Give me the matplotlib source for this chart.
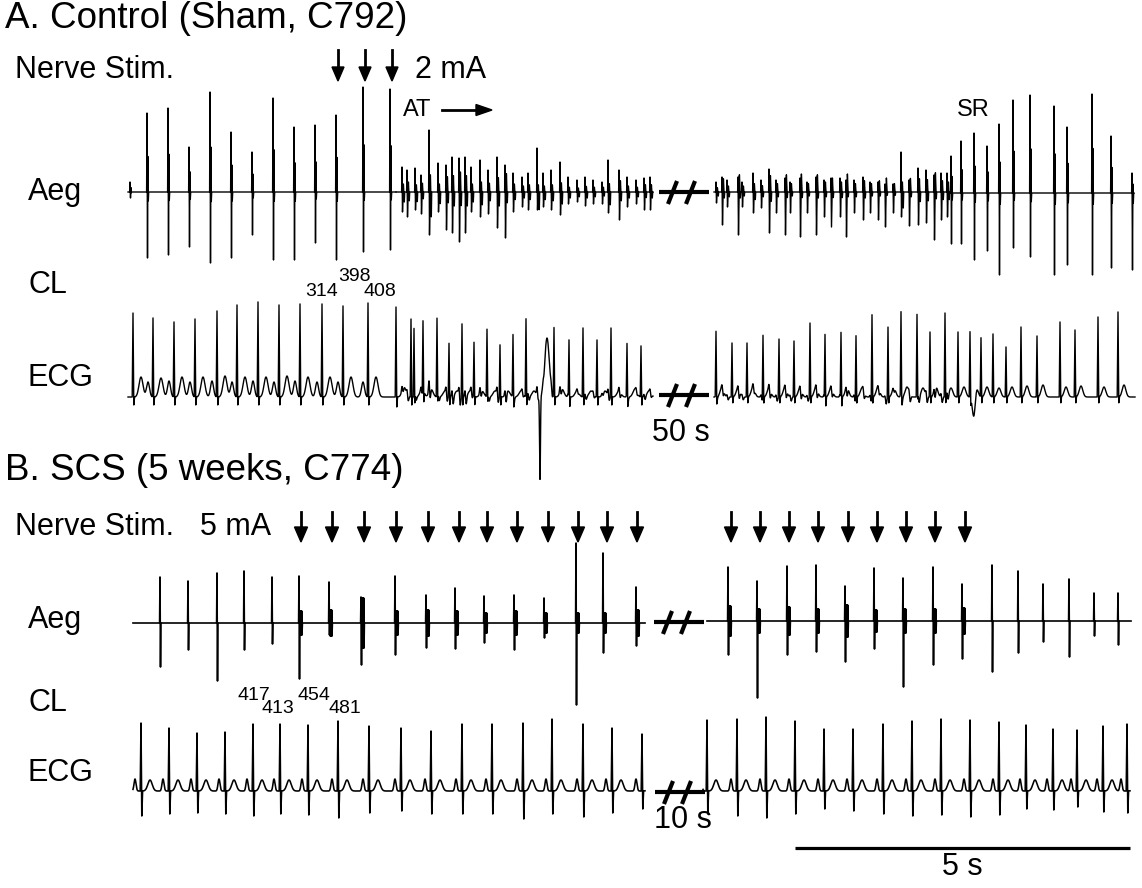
import numpy as np
import matplotlib
matplotlib.use("Agg")
import matplotlib.pyplot as plt
from matplotlib.patches import Polygon

plt.rcParams['font.family'] = ['Liberation Sans', 'DejaVu Sans']

# time runs along x at 67 units per second (the 5 s bar), amplitudes in trace units
UNITS_PER_S = 67

# ---------------- A. Control ----------------
# Aeg, sinus beats before the AT
a_aeg_sinus_x = [130, 147, 168, 189, 210, 231, 252, 273, 294, 315, 336, 363, 390]
a_aeg_sinus_up = [10, 79, 84, 45, 100, 60, 40, 94, 65, 67, 77, 105, 103]
a_aeg_sinus_down = [6, 66, 63, 55, 71, 66, 43, 68, 68, 51, 68, 60, 58]

# Aeg, atrial tachycardia before the gap
a_aeg_at1_x = [402, 407, 415, 421, 429, 438, 446, 452, 459, 465, 471, 480, 488, 497, 505, 513,
               522, 528, 537, 543, 551, 560, 568, 577, 585, 593, 602, 608, 619, 627, 636, 644, 650]
a_aeg_at1_up = [25, 22, 24, 17, 62, 29, 27, 35, 34, 35, 25, 32, 22, 35, 27, 19,
                15, 19, 44, 19, 22, 30, 15, 12, 15, 12, 10, 32, 22, 15, 12, 14, 15]
a_aeg_at1_down = [20, 25, 18, 22, 43, 20, 38, 41, 50, 41, 20, 25, 22, 36, 46, 20,
                  15, 18, 18, 15, 18, 23, 12, 10, 14, 12, 12, 21, 28, 15, 12, 18, 18]

# Aeg, atrial tachycardia after the gap
a_aeg_at2_x = [716, 722, 727, 738, 742, 753, 761, 769, 776, 785, 790, 800, 807, 816, 824, 831,
               840, 846, 854, 863, 870, 878, 885, 893, 901, 909, 918, 926, 934, 941, 947]
a_aeg_at2_up = [10, 15, 12, 15, 10, 19, 12, 23, 12, 14, 10, 14, 10, 15, 12, 14,
                14, 12, 12, 15, 10, 10, 8, 8, 40, 12, 24, 22, 17, 19, 19]
a_aeg_at2_down = [11, 33, 15, 43, 15, 21, 16, 41, 21, 43, 21, 45, 21, 43, 25, 35,
                  25, 45, 21, 28, 21, 28, 35, 21, 25, 34, 33, 31, 48, 28, 25]

# Aeg, return to sinus rhythm
a_aeg_sr_x = [951, 961, 974, 987, 999, 1013, 1030, 1054, 1067, 1092, 1111, 1132]
a_aeg_sr_up = [37, 52, 60, 47, 69, 93, 98, 87, 66, 99, 57, 20]
a_aeg_sr_down = [51, 51, 67, 58, 82, 55, 64, 82, 72, 82, 75, 77]

# ECG before the gap
a_ecg_l_x = [133, 153, 174, 195, 217, 237, 258, 279, 300, 322, 343, 368,
             396, 411, 414, 423, 437, 449, 462, 474, 487, 500, 513, 526,
             554, 569, 583, 597, 611, 627, 641]
a_ecg_l_r = [84, 79, 75, 78, 86, 92, 95, 92, 93, 93, 91, 94,
             90, 78, 68, 71, 78, 53, 73, 54, 67, 52, 59, 78,
             69, 59, 69, 57, 69, 51, 51]
a_ecg_l_s = [8, 8, 8, 8, 8, 8, 8, 8, 8, 8, 8, 8,
             10, 8, 10, 10, 9, 8, 8, 8, 8, 8, 8, 8,
             8, 8, 8, 8, 8, 8, 8]
a_ecg_l_t = [20, 19, 20, 20, 21, 20, 20, 21, 20, 20, 20, 20,
             10, 0, 8, 8, 6, 6, 6, 6, 6, 6, 6, 6,
             8, 6, 6, 6, 6, 8, 6]
a_ecg_l_p = [0, 15, 16, 15, 16, 15, 16, 15, 16, 15, 15, 15,
             0, 0, 0, 0, 0, 0, 0, 0, 0, 0, 0, 0,
             0, 0, 0, 0, 0, 0, 0]
# ectopic artefact: position, downward spike, broad upward hump
a_ecg_art_x, a_ecg_art_down, a_ecg_art_hump = 540, 83, 59

# ECG after the gap
a_ecg_r_x = [716, 732, 747, 763, 779, 794, 810, 825, 841, 856, 872, 888, 901, 917,
             930, 945, 958, 970, 981, 993, 1006, 1021, 1037, 1060, 1075, 1098, 1118]
a_ecg_r_r = [64, 54, 54, 63, 58, 56, 74, 67, 69, 63, 84, 70, 78, 82,
             65, 84, 65, 66, 59, 63, 50, 70, 61, 75, 67, 80, 85]
a_ecg_r_t = [10, 9, 10, 9, 10, 9, 10, 9, 10, 9, 10, 9, 10, 9,
             10, 9, 10, 12, 10, 9, 10, 11, 12, 10, 11, 10, 12]
a_ecg_dip_x, a_ecg_dip = 974, 25

a_cl_labels = ['314', '398', '408']

# ---------------- B. SCS ----------------
b_aeg_l_x = [160, 188, 217, 244, 272, 299, 329, 361, 395, 426, 455, 484, 514, 544, 576, 603, 636]
b_aeg_l_up = [46, 42, 50, 52, 46, 47, 41, 26, 47, 28, 35, 27, 28, 25, 80, 70, 36]
b_aeg_l_down = [44, 27, 58, 27, 21, 56, 12, 42, 32, 25, 26, 20, 27, 15, 82, 30, 23]
b_aeg_l_burst = [0, 0, 0, 0, 0, 12, 13, 25, 12, 13, 12, 10, 12, 10, 10, 10, 13]

b_aeg_r_x = [728, 757, 787, 816, 845, 874, 903, 933, 962, 992, 1018, 1043, 1069, 1094, 1118]
b_aeg_r_up = [54, 40, 55, 56, 35, 53, 43, 54, 37, 56, 50, 37, 42, 28, 28]
b_aeg_r_down = [34, 77, 34, 31, 41, 28, 66, 44, 38, 51, 32, 21, 36, 15, 24]
b_aeg_r_burst = [15, 12, 14, 12, 16, 11, 12, 12, 13, 0, 0, 0, 0, 0, 0]

b_ecg_l_x = [141, 169, 197, 225, 253, 280, 308, 338, 369, 401, 431, 462, 492, 523, 552, 583, 612, 642]
b_ecg_l_r = [68, 63, 58, 59, 67, 67, 66, 70, 65, 63, 60, 67, 67, 68, 72, 67, 63, 57]
b_ecg_l_s = [25, 23, 22, 23, 25, 23, 24, 27, 22, 20, 23, 23, 23, 28, 23, 26, 22, 18]

b_ecg_r_x = [707, 737, 766, 795, 824, 853, 883, 912, 941, 970, 999, 1026, 1053, 1077, 1103, 1127]
b_ecg_r_r = [71, 72, 74, 70, 62, 62, 67, 70, 72, 71, 69, 66, 62, 61, 65, 67]
b_ecg_r_s = [23, 25, 27, 23, 18, 20, 23, 25, 24, 26, 24, 18, 19, 16, 21, 22]

b_stim_x = [301, 332, 364, 396, 428, 459, 487, 517, 548, 578, 607, 637,
            731, 760, 789, 818, 848, 877, 906, 935, 965]
a_stim_x = [338, 365, 392]
b_cl_labels = ['417', '413', '454', '481']


def spike_trace(x0, x1, base, xs, ups, downs, bursts=None, rebound=0.0, echo=0.0):
    """Piecewise electrogram: sharp biphasic deflections on a flat baseline."""
    vx, vy = [x0], [base]
    for i, x in enumerate(xs):
        vx += [x - 0.4, x, x + 0.5]
        vy += [base, base - ups[i], base + downs[i]]
        if echo:
            vx += [x + 0.9, x + 1.3]
            vy += [base - echo * ups[i], base + 0.3 * echo * downs[i]]
        if bursts is not None and bursts[i] > 0:
            for k, dx in enumerate(np.arange(0.9, 3.3, 0.3)):
                sign = -1 if k % 2 == 0 else 1
                vx.append(x + dx)
                vy.append(base + sign * bursts[i])
        if rebound:
            vx += [x + 1.4, x + 2.3]
            vy += [base - rebound * downs[i], base + rebound * ups[i]]
        vx.append(vx[-1] + 0.4)
        vy.append(base)
    vx.append(x1)
    vy.append(base)
    return np.array(vx), np.array(vy)


def ecg_trace(x0, x1, base, rx, rh, sd, th, ph, t_off, t_w, p_off, p_w, extra=None):
    grid = np.arange(x0, x1, 0.25)
    smooth = np.zeros_like(grid)
    for i, x in enumerate(rx):
        smooth += th[i] * np.exp(-0.5 * ((grid - x - t_off) / t_w) ** 2)
        smooth += ph[i] * np.exp(-0.5 * ((grid - x + p_off) / p_w) ** 2)
    if extra is not None:
        smooth += extra(grid)
    qx, qy = [x0], [0.0]
    for i, x in enumerate(rx):
        qx += [x - 0.8, x, x + 0.8, x + 1.6]
        qy += [0, rh[i], -sd[i], 0]
    qx.append(x1)
    qy.append(0.0)
    xs = np.union1d(grid, qx)
    ys = base - (np.interp(xs, grid, smooth) + np.interp(xs, qx, qy))
    return xs, ys


def fwaves(xs, ups, downs, scale):
    def f(g):
        out = np.zeros_like(g)
        for x, u, d in zip(xs, ups, downs):
            out += scale * u * np.exp(-0.5 * ((g - x) / 0.5) ** 2)
            out -= scale * d * np.exp(-0.5 * ((g - x - 1.2) / 0.6) ** 2)
        return out
    return f


fig = plt.figure(figsize=(11.42, 8.88), dpi=100)
ax = fig.add_axes([0, 0, 1, 1])
ax.set_xlim(0, 1142)
ax.set_ylim(888, 0)
ax.axis('off')

LW = 1.0

# ---- A: Aeg ----
xs, ys = spike_trace(128, 396, 192, a_aeg_sinus_x, a_aeg_sinus_up, a_aeg_sinus_down, echo=0.45)
ax.plot(xs, ys, color='k', lw=LW)
xs, ys = spike_trace(396, 653, 192, a_aeg_at1_x, a_aeg_at1_up, a_aeg_at1_down, rebound=0.4)
ax.plot(xs, ys, color='k', lw=LW)
xs, ys = spike_trace(714, 949, 192, a_aeg_at2_x, a_aeg_at2_up, a_aeg_at2_down, rebound=0.4)
ax.plot(xs, ys, color='k', lw=LW)
xs, ys = spike_trace(949, 1134, 193, a_aeg_sr_x, a_aeg_sr_up, a_aeg_sr_down, echo=0.45)
ax.plot(xs, ys, color='k', lw=LW)

# ---- A: ECG ----
def a_left_extra(g):
    out = fwaves(a_aeg_at1_x, a_aeg_at1_up, a_aeg_at1_down, 0.2)(g)
    out += a_ecg_art_hump * np.exp(-0.5 * ((g - a_ecg_art_x - 7) / 2.3) ** 2)
    out -= a_ecg_art_down * np.exp(-0.5 * ((g - a_ecg_art_x) / 0.45) ** 2)
    return out


xs, ys = ecg_trace(128, 653, 397, a_ecg_l_x, a_ecg_l_r, a_ecg_l_s, a_ecg_l_t, a_ecg_l_p,
                   t_off=8, t_w=2.0, p_off=5, p_w=1.5, extra=a_left_extra)
ax.plot(xs, ys, color='k', lw=LW)


def a_right_extra(g):
    out = fwaves(a_aeg_at2_x, a_aeg_at2_up, a_aeg_at2_down, 0.2)(g)
    out -= a_ecg_dip * np.exp(-0.5 * ((g - a_ecg_dip_x) / 1.5) ** 2)
    return out


xs, ys = ecg_trace(714, 1135, 397, a_ecg_r_x, a_ecg_r_r, [6] * len(a_ecg_r_x), a_ecg_r_t,
                   [0] * len(a_ecg_r_x), t_off=6, t_w=1.8, p_off=5, p_w=1.5, extra=a_right_extra)
ax.plot(xs, ys, color='k', lw=LW)

# ---- B: Aeg ----
xs, ys = spike_trace(133, 645, 623, b_aeg_l_x, b_aeg_l_up, b_aeg_l_down, bursts=b_aeg_l_burst)
ax.plot(xs, ys, color='k', lw=1.2)
xs, ys = spike_trace(707, 1131, 621, b_aeg_r_x, b_aeg_r_up, b_aeg_r_down, bursts=b_aeg_r_burst)
ax.plot(xs, ys, color='k', lw=1.2)

# ---- B: ECG ----
n = len(b_ecg_l_x)
xs, ys = ecg_trace(133, 645, 791, b_ecg_l_x, b_ecg_l_r, b_ecg_l_s, [11] * n, [12] * n,
                   t_off=9, t_w=2.2, p_off=6, p_w=1.0)
ax.plot(xs, ys, color='k', lw=1.15)
n = len(b_ecg_r_x)
xs, ys = ecg_trace(703, 1130, 791, b_ecg_r_x, b_ecg_r_r, b_ecg_r_s, [11] * n, [12] * n,
                   t_off=9, t_w=2.2, p_off=6, p_w=1.0)
ax.plot(xs, ys, color='k', lw=1.15)


# ---- break marks ----
def break_mark(x0, y):
    ax.plot([x0, x0 + 50], [y, y], color='k', lw=3, solid_capstyle='butt')
    for cx in (x0 + 13.5, x0 + 31.5):
        ax.plot([cx - 4.5, cx + 4.5], [y + 12, y - 11], color='k', lw=3, solid_capstyle='butt')


break_mark(659, 192)
break_mark(659, 395)
break_mark(654, 622)
break_mark(655, 792)


# ---- stimulation arrows ----
def stim_arrow(x, y_top, y_tip, head_len, half_w):
    ax.plot([x, x], [y_top, y_tip - head_len + 1], color='k', lw=2)
    ax.add_patch(Polygon([[x - half_w, y_tip - head_len], [x + half_w, y_tip - head_len], [x, y_tip]],
                         closed=True, color='k'))


for x in a_stim_x:
    stim_arrow(x, 50, 81, 14, 6)
for x in b_stim_x:
    stim_arrow(x, 512, 542, 15, 6.5)

# AT arrow
ax.plot([442, 478], [110, 110], color='k', lw=2)
ax.add_patch(Polygon([[476, 104.5], [476, 115.5], [492, 110]], closed=True, color='k'))

# ---- text ----
big = 26.5
mid = 22
ax.text(5, 19, 'A. Control (Sham, C792)', fontsize=big, va='center', ha='left')
ax.text(15, 70, 'Nerve Stim.', fontsize=mid, va='center', ha='left')
ax.text(415, 70, '2 mA', fontsize=mid, va='center', ha='left')
ax.text(403, 110, 'AT', fontsize=17, va='center', ha='left')
ax.text(957, 110, 'SR', fontsize=17, va='center', ha='left')
ax.text(28, 192, 'Aeg', fontsize=mid, va='center', ha='left')
ax.text(28, 285, 'CL', fontsize=mid, va='center', ha='left')
ax.text(28, 378, 'ECG', fontsize=mid, va='center', ha='left')
ax.text(652, 433, '50 s', fontsize=mid, va='center', ha='left')

num_font = ['Liberation Sans Narrow', 'Liberation Sans']
for lab, cx, cy in zip(a_cl_labels, [322, 354, 380], [291, 276, 291]):
    ax.text(cx, cy, lab, fontsize=14, va='center', ha='center', family=num_font)

ax.text(5, 470, 'B. SCS (5 weeks, C774)', fontsize=big, va='center', ha='left')
ax.text(15, 527, 'Nerve Stim.', fontsize=mid, va='center', ha='left')
ax.text(200, 527, '5 mA', fontsize=mid, va='center', ha='left')
ax.text(28, 620, 'Aeg', fontsize=mid, va='center', ha='left')
ax.text(28, 703, 'CL', fontsize=mid, va='center', ha='left')
ax.text(28, 773, 'ECG', fontsize=mid, va='center', ha='left')
ax.text(654, 820, '10 s', fontsize=mid, va='center', ha='left')
for lab, cx, cy in zip(b_cl_labels, [254, 278, 314, 345], [695, 708, 695, 708]):
    ax.text(cx, cy, lab, fontsize=14, va='center', ha='center', family=num_font)

# scale bar
ax.plot([795, 795 + 5 * UNITS_PER_S], [848, 848], color='k', lw=2.3, solid_capstyle='butt')
ax.text(795 + 2.5 * UNITS_PER_S, 867, '5 s', fontsize=mid, va='center', ha='center')

fig.savefig('out.png', dpi=100, facecolor='white')
